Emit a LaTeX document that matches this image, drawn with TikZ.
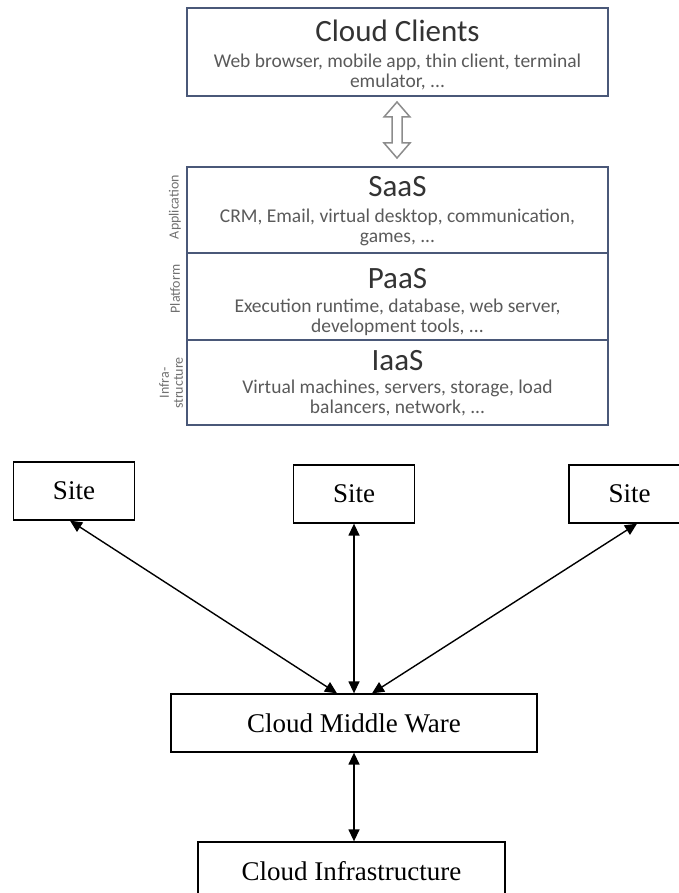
\documentclass[tikz,border=0pt]{standalone}
\usepackage{fontspec}
\setmainfont{Liberation Serif}
\newfontfamily\cali{Carlito}
\usetikzlibrary{arrows.meta}

\definecolor{stackedge}{HTML}{4A5878}
\definecolor{titlegray}{HTML}{333333}
\definecolor{subgray}{HTML}{5A5A5A}
\definecolor{sidegray}{HTML}{707070}
\definecolor{hollowgray}{HTML}{8C8C8C}

\begin{document}
\begin{tikzpicture}[x=1pt,y=-1pt,
  layer/.style={draw=stackedge, line width=1.8pt, fill=white, minimum width=421pt, inner sep=0pt},
  layertitle/.style={font=\cali\fontsize{31}{35}\selectfont, text=titlegray, inner sep=0pt},
  layersub/.style={font=\cali\fontsize{19.5}{20}\selectfont, text=subgray, align=center, inner sep=0pt},
  sidelabel/.style={font=\cali\fontsize{14}{14}\selectfont, text=sidegray, rotate=90, align=center, inner sep=0pt},
  sitebox/.style={draw, line width=1.3pt, minimum width=121pt, minimum height=58pt,
                  font=\fontsize{27}{30}\selectfont, inner sep=0pt},
  link/.style={line width=1.4pt, {Triangle[length=12pt,width=11pt]}-{Triangle[length=12pt,width=11pt]}},
  hollow/.style={draw=hollowgray, line width=1.5pt, fill=white, line join=miter}
]
\clip (0,0) rectangle (679,893);

% ---- service model stack ----
\node[layer, minimum height=88pt] (clients) at (397.5,52) {};
\node[layertitle] (clientsT) at ([yshift=-24pt]clients.north) {Cloud Clients};
\node[layersub] (clientsS) at ([yshift=-65pt]clients.north)
  {Web browser, mobile app, thin client, terminal\\emulator, ...};

% hollow double arrow between clients and the stack
\draw[hollow, shift={(397,130)}]
  (0,-28) -- (13,-13) -- (5,-13) -- (5,13) -- (13,13) -- (0,28)
  -- (-13,13) -- (-5,13) -- (-5,-13) -- (-13,-13) -- cycle;

\node[layer, minimum height=86pt] (saas) at (397.5,210) {};
\node[layer, minimum height=87pt] (paas) at (397.5,296.5) {};
\node[layer, minimum height=85pt] (iaas) at (397.5,382.5) {};

\node[layertitle] (saasT) at ([yshift=-20pt]saas.north) {SaaS};
\node[layersub] (saasS) at ([yshift=-61pt]saas.north)
  {CRM, Email, virtual desktop, communication,\\games, ...};
\node[layertitle] (paasT) at ([yshift=-26pt]paas.north) {PaaS};
\node[layersub] (paasS) at ([yshift=-65pt]paas.north)
  {Execution runtime, database, web server,\\development tools, ...};
\node[layertitle] (iaasT) at ([yshift=-21pt]iaas.north) {IaaS};
\node[layersub] (iaasS) at ([yshift=-59pt]iaas.north)
  {Virtual machines, servers, storage, load\\balancers, network, ...};

\node[sidelabel] (appL) at (175,207) {Application};
\node[sidelabel] (platL) at (175,289) {Platform};
\node[sidelabel] (infraL) at (171,383) {Infra-\\structure};

% ---- sites and middleware ----
\node[sitebox] (site1) at (74,491) {Site};
\node[sitebox] (site2) at (354,494) {Site};
\node[sitebox] (site3) at (629.5,494) {Site};
\node[sitebox, minimum width=366pt] (mw) at (354,723) {Cloud Middle Ware};
\node[sitebox, minimum width=307pt] (infra) at (351.5,871) {Cloud Infrastructure};

\draw[link] ([xshift=-4pt]site1.south) -- ([xshift=-17pt]mw.north);
\draw[link] (site2.south) -- (mw.north);
\draw[link] ([xshift=7.5pt]site3.south) -- ([xshift=18pt]mw.north);
\draw[link] (mw.south) -- (mw.south |- infra.north);
\end{tikzpicture}
\end{document}
